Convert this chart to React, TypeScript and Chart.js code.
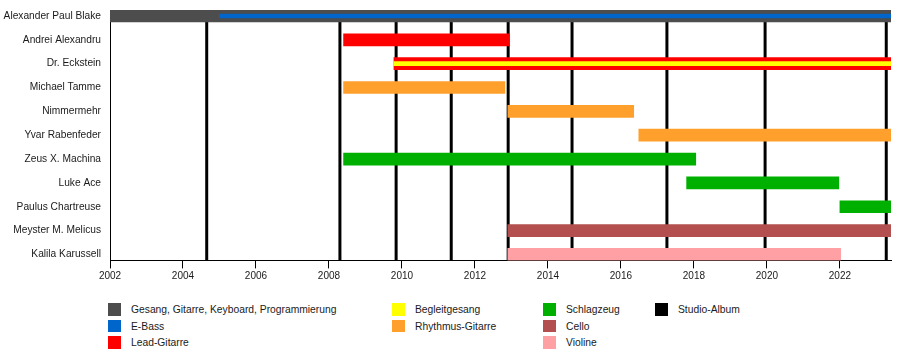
import React, { useEffect, useRef } from 'react';
import { Chart, registerables } from 'chart.js';

Chart.register(...registerables);

// ---------- data ----------
const members = [
  'Alexander Paul Blake',
  'Andrei Alexandru',
  'Dr. Eckstein',
  'Michael Tamme',
  'Nimmermehr',
  'Yvar Rabenfeder',
  'Zeus X. Machina',
  'Luke Ace',
  'Paulus Chartreuse',
  'Meyster M. Melicus',
  'Kalila Karussell',
];

const startYear = 2002;
const endYear = 2023.4;
const tickYears = [2002, 2004, 2006, 2008, 2010, 2012, 2014, 2016, 2018, 2020, 2022];
const albumYears = [2004.65, 2008.3, 2009.84, 2011.35, 2012.91, 2014.66, 2017.26, 2019.95, 2023.27];

const roleLabels = [
  'Gesang, Gitarre, Keyboard, Programmierung',
  'E-Bass',
  'Lead-Gitarre',
  'Begleitgesang',
  'Rhythmus-Gitarre',
  'Schlagzeug',
  'Cello',
  'Violine',
];
const roleColors = ['#4d4d4d', '#0066cc', '#ff0000', '#ffff00', '#ffa02c', '#00b000', '#b34f4f', '#ffa0a4'];
const roleIsStripe = [false, true, false, true, false, false, false, false];

// spans per role: [member index, start, end]
const vocalsSpans = [[0, 2002, endYear]];
const bassSpans = [[0, 2005.0, endYear]];
const leadSpans = [[1, 2008.4, 2012.93], [2, 2009.78, endYear]];
const backingSpans = [[2, 2009.78, endYear]];
const rhythmSpans = [[3, 2008.4, 2012.82], [4, 2012.9, 2016.35], [5, 2016.49, endYear]];
const drumSpans = [[6, 2008.4, 2018.05], [7, 2017.8, 2021.97], [8, 2022.0, endYear]];
const celloSpans = [[9, 2012.9, endYear]];
const violinSpans = [[10, 2012.9, 2022.02]];
const roleSpans = [vocalsSpans, bassSpans, leadSpans, backingSpans, rhythmSpans, drumSpans, celloSpans, violinSpans];

const albumLabel = 'Studio-Album';
const albumColor = '#000000';

// legend columns (indices into roleLabels; -1 = studio album)
const legendColumns = [[0, 1, 2], [3, 4], [5, 6, 7], [-1]];

// ---------- styling ----------
const FONT = '"Liberation Sans", Arial, Helvetica, sans-serif';
const TEXT = '#1a1a1a';
const legendColX = [108, 392, 543, 655];
const legendRowY = [303, 319.5, 336];

const albumLinesPlugin = {
  id: 'albumLines',
  beforeDatasetsDraw(chart: any) {
    const { ctx, chartArea, scales } = chart;
    ctx.save();
    ctx.strokeStyle = albumColor;
    ctx.lineWidth = 3;
    albumYears.forEach((yr) => {
      const x = scales.x.getPixelForValue(yr);
      ctx.beginPath();
      ctx.moveTo(x, chartArea.top);
      ctx.lineTo(x, chartArea.bottom);
      ctx.stroke();
    });
    ctx.restore();
  },
};

const zeroPad = (s: any) => {
  s.paddingTop = 0;
  s.paddingBottom = 0;
  s.paddingLeft = 0;
  s.paddingRight = 0;
};

export default function App() {
  const canvasRef = useRef<HTMLCanvasElement | null>(null);

  useEffect(() => {
    document.body.style.margin = '0';
    const canvas = canvasRef.current;
    if (!canvas) return;

    const datasets = roleLabels.map((label, r) => ({
      label,
      data: roleSpans[r].map(([m, s, e]) => ({ x: [s, e], y: m })),
      backgroundColor: roleColors[r],
      borderWidth: 0,
      borderSkipped: false,
      barThickness: roleIsStripe[r] ? 4 : 12,
      grouped: false,
      order: roleIsStripe[r] ? 0 : 1,
    }));

    const chart = new Chart(canvas, {
      type: 'bar',
      data: { datasets } as any,
      plugins: [albumLinesPlugin],
      options: {
        animation: false,
        responsive: false,
        indexAxis: 'y',
        layout: { padding: { top: 10, right: 9, left: 0, bottom: 0 } },
        plugins: {
          legend: { display: false },
          tooltip: { enabled: false },
        },
        scales: {
          x: {
            type: 'linear',
            position: 'bottom',
            min: startYear,
            max: endYear,
            offset: false,
            afterBuildTicks: (s: any) => {
              s.ticks = tickYears.map((v) => ({ value: v }));
            },
            afterFit: (s: any) => {
              s.height = 29.6;
              zeroPad(s);
            },
            grid: {
              display: true,
              offset: false,
              drawOnChartArea: false,
              drawTicks: true,
              tickLength: 8,
              color: '#000',
              lineWidth: 1,
            },
            border: { display: true, color: '#000', width: 1 },
            ticks: {
              autoSkip: false,
              maxRotation: 0,
              padding: 2,
              color: TEXT,
              font: { family: FONT, size: 10 },
              callback: (v: any) => String(v),
            },
          },
          y: {
            type: 'linear',
            reverse: true,
            min: -0.25,
            max: 10.25,
            offset: false,
            afterBuildTicks: (s: any) => {
              s.ticks = members.map((_, i) => ({ value: i }));
            },
            afterFit: (s: any) => {
              s.width = 110;
              zeroPad(s);
            },
            grid: {
              display: true,
              offset: false,
              drawOnChartArea: false,
              drawTicks: true,
              tickLength: 9,
              color: 'rgba(0,0,0,0)',
            },
            border: { display: true, color: '#000', width: 1 },
            ticks: {
              autoSkip: false,
              padding: 0,
              color: TEXT,
              font: { family: FONT, size: 10.2 },
              callback: (v: any) => members[v as number] ?? '',
            },
          },
        },
      } as any,
    });

    return () => chart.destroy();
  }, []);

  const legendItems: any[] = [];
  legendColumns.forEach((col, ci) => {
    col.forEach((ri, rowi) => {
      const label = ri < 0 ? albumLabel : roleLabels[ri];
      const color = ri < 0 ? albumColor : roleColors[ri];
      const top = legendRowY[rowi];
      legendItems.push(
        <div key={label} style={{ position: 'absolute', left: legendColX[ci], top, height: 13, display: 'flex', alignItems: 'center' }}>
          <div style={{ width: 13, height: 12.5, background: color }} />
          <span
            style={{
              marginLeft: 10,
              fontFamily: FONT,
              fontSize: '10.3px',
              color: TEXT,
              lineHeight: '13px',
              whiteSpace: 'nowrap',
            }}
          >
            {label}
          </span>
        </div>
      );
    });
  });

  return (
    <div style={{ position: 'relative', width: 900, height: 360, background: '#fff' }}>
      <canvas ref={canvasRef} width={900} height={290} style={{ display: 'block' }} />
      {legendItems}
    </div>
  );
}
